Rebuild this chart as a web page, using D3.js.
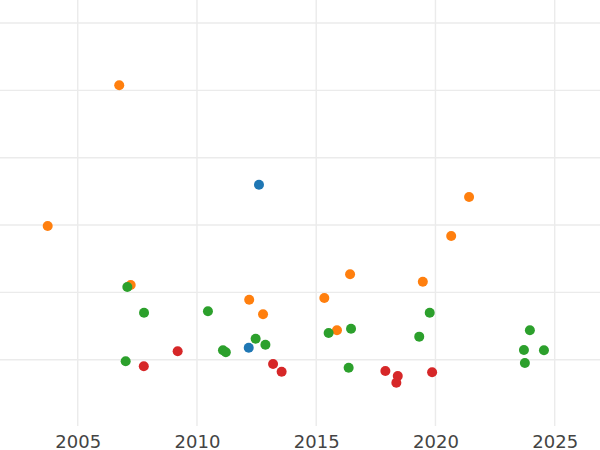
<!DOCTYPE html>
<html>
<head>
<meta charset="utf-8">
<script src="https://cdn.jsdelivr.net/npm/d3@7"></script>
<style>
  html, body { margin: 0; padding: 0; background: #fff; }
  svg { display: block; }
</style>
</head>
<body>
<div id="chart"></div>
<script>
// ---- data ----
const blueX   = [2012.17, 2012.60];
const blueY   = [1.78, 25.99];

const orangeX = [2003.74, 2006.74, 2007.22, 2012.19, 2012.77, 2015.34, 2015.87, 2016.42, 2019.47, 2020.66, 2021.41];
const orangeY = [19.86, 40.75, 11.09, 8.91, 6.74, 9.16, 4.37, 12.68, 11.58, 18.37, 24.16];

const greenX  = [2007.08, 2007.78, 2010.46, 2011.09, 2011.21, 2012.46, 2012.87, 2007.01, 2015.52, 2016.46, 2016.36, 2019.32, 2019.76, 2023.96, 2023.71, 2024.55, 2023.75];
const greenY  = [10.80, 6.98, 7.19, 1.40, 1.10, 3.12, 2.23, -0.24, 3.97, 4.60, -1.19, 3.42, 6.98, 4.37, 1.44, 1.40, -0.49];

const redX    = [2009.19, 2007.77, 2013.19, 2013.55, 2017.90, 2018.42, 2018.36, 2019.86];
const redY    = [1.25, -0.98, -0.64, -1.78, -1.68, -2.42, -3.42, -1.87];

const xTicks = [2005, 2010, 2015, 2020, 2025];
const yTicks = [0, 10, 20, 30, 40, 50];

const seriesColors = ["#1f77b4", "#ff7f0e", "#2ca02c", "#d62728"];

// ---- layout ----
const W = 600, H = 450;
const plotBottom = 426;

const x = d3.scaleLinear().domain([2001.74, 2026.9]).range([0, W]);
const y = d3.scaleLinear().domain([-9.85, 53.42]).range([plotBottom, 0]);

const svg = d3.select("#chart").append("svg")
  .attr("width", W).attr("height", H);

svg.append("rect").attr("width", W).attr("height", H).attr("fill", "#fff");

// grid
svg.append("g").selectAll("line").data(yTicks).join("line")
  .attr("x1", 0).attr("x2", W)
  .attr("y1", d => y(d)).attr("y2", d => y(d))
  .attr("stroke", "#ebebeb").attr("stroke-width", 1.4);

svg.append("g").selectAll("line").data(xTicks).join("line")
  .attr("x1", d => x(d)).attr("x2", d => x(d))
  .attr("y1", 0).attr("y2", plotBottom)
  .attr("stroke", "#ebebeb").attr("stroke-width", 1.4);

// x axis labels
const xAxis = d3.axisBottom(x).tickValues(xTicks).tickFormat(d3.format("d")).tickSize(0).tickPadding(9);
const gx = svg.append("g").attr("transform", `translate(0,${plotBottom})`).call(xAxis);
gx.select(".domain").remove();
gx.selectAll("text")
  .attr("fill", "#444")
  .style("font-family", "'DejaVu Sans', Verdana, sans-serif")
  .style("font-size", "18px");

// points
const series = [
  { xs: blueX, ys: blueY },
  { xs: orangeX, ys: orangeY },
  { xs: greenX, ys: greenY },
  { xs: redX, ys: redY }
];

series.forEach((s, i) => {
  const pts = s.xs.map((v, j) => [v, s.ys[j]]);
  svg.append("g").selectAll("circle").data(pts).join("circle")
    .attr("cx", d => x(d[0]))
    .attr("cy", d => y(d[1]))
    .attr("r", 5)
    .attr("fill", seriesColors[i]);
});
</script>
</body>
</html>
